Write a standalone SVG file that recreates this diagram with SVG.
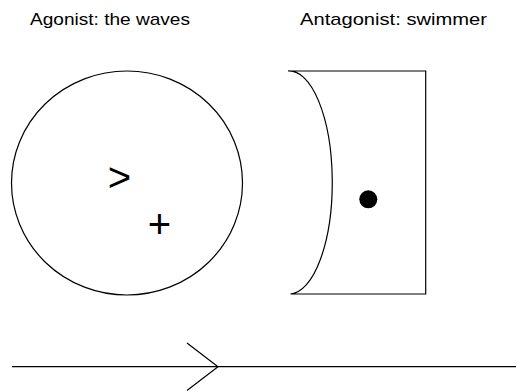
<svg xmlns="http://www.w3.org/2000/svg" width="516" height="392" viewBox="0 0 516 392">
<style>
.title{font-family:"Liberation Sans",Arial,sans-serif;font-size:17px;fill:#000}
.sym{font-family:"Liberation Sans",Arial,sans-serif;fill:#000;text-anchor:middle;font-size:40px}
.ln{fill:none;stroke:#000;stroke-width:1.2}
</style>
<rect width="516" height="392" fill="#fff"/>
<g id="agonist">
<text class="title" x="30" y="25" textLength="160" lengthAdjust="spacingAndGlyphs">Agonist: the waves</text>
<ellipse class="ln" cx="127" cy="183" rx="115.5" ry="112"/>
<text class="sym" x="119.5" y="190.5">&gt;</text>
<text class="sym" x="159.5" y="237.5">+</text>
</g>
<g id="antagonist">
<text class="title" x="300" y="25" textLength="187" lengthAdjust="spacingAndGlyphs">Antagonist:  swimmer</text>
<path class="ln" d="M288,71 H425.7 V294 H290.5 A43,111.5 0 0 0 288,71"/>
<circle cx="368.3" cy="199.3" r="9" fill="#000"/>
</g>
<g id="connectors">
<line class="ln" x1="12" y1="366.7" x2="516" y2="366.7" stroke="#333"/>
<polyline class="ln" points="187,343 218,366.7 187,390.5"/>
</g>
</svg>
